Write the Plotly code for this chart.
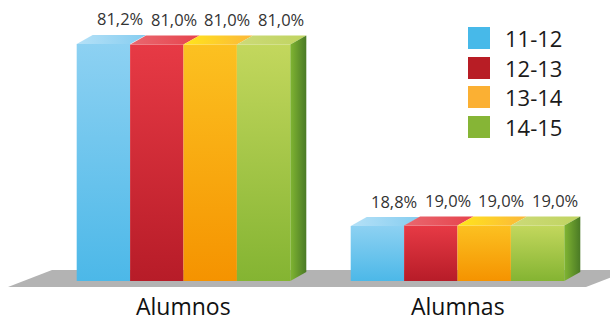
import plotly.graph_objects as go

# ---------------- data ----------------
categories = ["Alumnos", "Alumnas"]
series_names = ["11-12", "12-13", "13-14", "14-15"]
values_1112 = [81.2, 18.8]
values_1213 = [81.0, 19.0]
values_1314 = [81.0, 19.0]
values_1415 = [81.0, 19.0]
all_values = [values_1112, values_1213, values_1314, values_1415]

# ---------------- styles ----------------
legend_colors = ["#47B9E9", "#B81D25", "#FBB033", "#86B536"]
front_grad = [("#4CB8E8", "#8DD1F2"), ("#B71C28", "#E73A45"),
              ("#F59300", "#FCC121"), ("#84B432", "#C3D75D")]
top_grad = [("#B5E1F7", "#86CDF0"), ("#E9686F", "#E6434D"),
            ("#FFE51C", "#FBB73A"), ("#CCDA78", "#C0D460")]
side_grad = ("#80B532", "#4A7A25")
floor_color = "#B3B3B3"

W, H = 610, 316
PX_X = 274.0        # pixels per category unit
PX_Y = 2.92         # pixels per percentage point
X0_PX = 183.5       # pixel position of first category
BASE_PX = 281       # pixel position of value 0
BAR_W = 53.4 / PX_X
DX = 16 / PX_X
DY = 9 / PX_Y

xrange_ = [-X0_PX / PX_X, (W - X0_PX) / PX_X]
yrange_ = [-(H - BASE_PX) / PX_Y, BASE_PX / PX_Y]

fig = go.Figure()


def poly(xs, ys, c0, c1, orient):
    fig.add_trace(go.Scatter(
        x=xs + [xs[0]], y=ys + [ys[0]], mode="lines", fill="toself",
        line=dict(width=0), hoverinfo="skip", showlegend=False,
        fillgradient=dict(type=orient, colorscale=[[0, c0], [1, c1]]),
    ))


n = len(series_names)
for gi, cat in enumerate(categories):
    for si in range(n):
        v = all_values[si][gi]
        x0 = gi - n / 2 * BAR_W + si * BAR_W
        x1 = x0 + BAR_W
        # front face
        poly([x0, x1, x1, x0], [0, 0, v, v], front_grad[si][0], front_grad[si][1], "vertical")
        # top face
        poly([x0, x1, x1 + DX, x0 + DX], [v, v, v + DY, v + DY],
             top_grad[si][0], top_grad[si][1], "horizontal")
        # side face for last bar of group
        if si == n - 1:
            poly([x1, x1 + DX, x1 + DX, x1], [0, DY, v + DY, v],
                 side_grad[0], side_grad[1], "horizontal")
        # value label
        fig.add_annotation(
            x=x0 + BAR_W / 2, y=v, xref="x", yref="y",
            text=f"{v:.1f}%".replace(".", ","), showarrow=False,
            xshift=17, yshift=25, yanchor="middle",
            font=dict(family="Open Sans", size=16.5, color="#333333"),
        )
    fig.add_annotation(
        x=gi, y=1 - 305.5 / H, xref="x", yref="paper", text=cat, showarrow=False,
        yanchor="middle", borderpad=0,
        font=dict(family="Open Sans", size=23, color="#111111"),
    )

# floor
def P(px, py):
    return f"{px / W:.5f},{1 - py / H:.5f}"

fig.add_shape(type="path", xref="paper", yref="paper", layer="below",
              path=f"M {P(52,270)} L {P(630,270)} L {P(586,287)} L {P(8,287)} Z",
              fillcolor=floor_color, line=dict(width=0))

# legend
legend_y = [38, 68, 97, 127]
for name, col, cy in zip(series_names, legend_colors, legend_y):
    fig.add_shape(type="rect", xref="paper", yref="paper",
                  x0=468 / W, x1=490 / W, y0=1 - (cy + 11) / H, y1=1 - (cy - 11) / H,
                  fillcolor=col, line=dict(width=0))
    fig.add_annotation(x=503 / W, y=1 - cy / H, xref="paper", yref="paper", text=name,
                       showarrow=False, xanchor="left", yanchor="middle",
                       font=dict(family="Open Sans", size=22, color="#1A1A1A"))

fig.update_layout(
    width=W, height=H, margin=dict(l=0, r=0, t=0, b=0),
    paper_bgcolor="white", plot_bgcolor="white", showlegend=False,
    xaxis=dict(range=xrange_, visible=False, fixedrange=True),
    yaxis=dict(range=yrange_, visible=False, fixedrange=True),
)

fig.write_html("out.html", post_script="document.body.style.margin='0';",
               config={"displayModeBar": False})
